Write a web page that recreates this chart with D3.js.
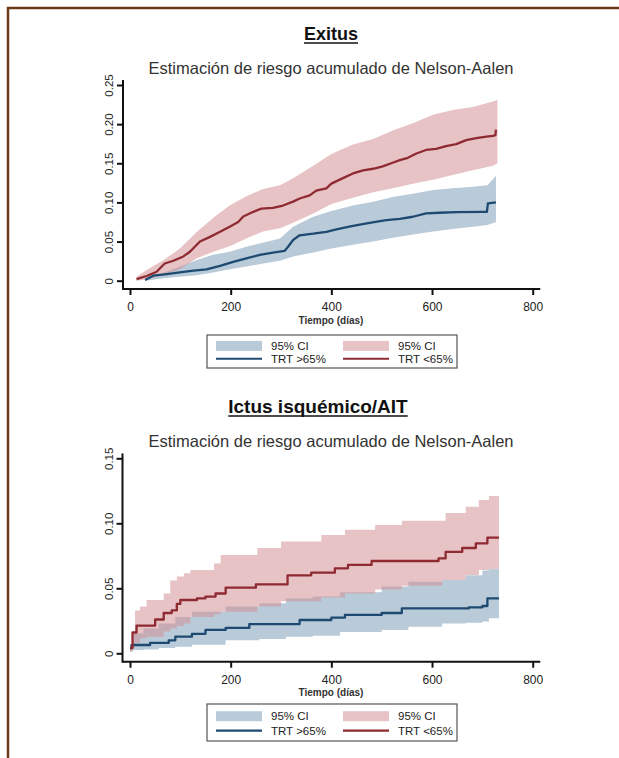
<!DOCTYPE html>
<html><head><meta charset="utf-8">
<script src="https://cdn.jsdelivr.net/npm/d3@7"></script>
<style>body{margin:0;background:#fff}svg{display:block}text{font-family:"Liberation Sans",Arial,Helvetica,sans-serif}</style>
</head><body><svg id="c" width="619" height="758"></svg>
<script>
// ---------- DATA ----------
const xTicks = [0, 200, 400, 600, 800];
const exYTicks = [0, 0.05, 0.10, 0.15, 0.20, 0.25];
const exYLabels = ["0", "0.05", "0.10", "0.15", "0.20", "0.25"];
const icYTicks = [0, 0.05, 0.10, 0.15];
const icYLabels = ["0", "0.05", "0.10", "0.15"];
const legendLabels = ["95% CI", "95% CI", "TRT >65%", "TRT <65%"];

// Exitus – TRT <65% (red)
const exRedT = [13,33,53,69,86,106,119,139,159,179,198,215,225,245,261,284,304,324,337,357,370,390,400,423,443,463,483,502,519,536,552,569,588,608,628,648,668,688,708,721,726,727];
const exRedV = [0.002,0.006,0.0115,0.022,0.0255,0.031,0.037,0.050,0.056,0.0625,0.069,0.075,0.082,0.088,0.092,0.093,0.096,0.101,0.105,0.109,0.115,0.118,0.124,0.131,0.137,0.141,0.143,0.146,0.150,0.154,0.157,0.1625,0.167,0.1685,0.172,0.1745,0.1795,0.182,0.184,0.185,0.186,0.193];
const exRedBandT = [13,33,66,99,132,165,198,231,264,298,324,364,400,443,483,522,562,602,641,681,721,730];
const exRedUp = [0.005,0.0136,0.026,0.041,0.062,0.080,0.096,0.108,0.117,0.122,0.131,0.147,0.162,0.174,0.181,0.192,0.201,0.212,0.218,0.222,0.229,0.231];
const exRedLo = [0.0,0.002,0.007,0.0145,0.0285,0.037,0.044,0.054,0.063,0.067,0.074,0.086,0.098,0.106,0.113,0.118,0.124,0.129,0.135,0.141,0.147,0.150];
// Exitus – TRT >65% (blue)
const exBlueT = [30,46,73,99,126,152,179,205,231,258,284,307,314,324,337,364,390,410,443,476,509,536,562,588,615,648,701,709,711,727];
const exBlueV = [0.001,0.0064,0.0085,0.0106,0.0128,0.0145,0.019,0.024,0.0285,0.033,0.036,0.038,0.0434,0.052,0.058,0.060,0.0625,0.0655,0.070,0.074,0.0775,0.079,0.0817,0.086,0.0868,0.0877,0.088,0.088,0.0987,0.100];
const exBlueBandT = [30,66,99,132,165,198,231,264,298,324,364,400,443,483,522,562,602,641,681,710,727];
const exBlueUp = [0.002,0.010,0.018,0.026,0.033,0.037,0.0434,0.0485,0.054,0.069,0.0817,0.089,0.096,0.101,0.107,0.111,0.116,0.118,0.120,0.122,0.134];
const exBlueLo = [0.0,0.003,0.005,0.007,0.0106,0.0145,0.018,0.022,0.0255,0.031,0.036,0.041,0.046,0.050,0.055,0.059,0.063,0.066,0.069,0.071,0.075];

// Ictus – TRT <65% (red)
const icRedT = [0,5,13,50,67,83,93,100,133,150,170,190,250,313,360,407,433,480,613,627,660,687,710,733];
const icRedV = [0.004,0.016,0.0213,0.026,0.031,0.033,0.038,0.041,0.0423,0.0436,0.046,0.0505,0.053,0.060,0.062,0.0654,0.068,0.071,0.073,0.078,0.081,0.0846,0.089,0.089];
const icRedBandT = [0,5,10,20,33,67,80,93,107,120,167,180,253,300,380,427,487,540,620,627,667,693,713,733];
const icRedUp = [0.004,0.0154,0.033,0.036,0.041,0.046,0.056,0.059,0.0615,0.064,0.069,0.0756,0.081,0.086,0.091,0.095,0.0987,0.102,0.102,0.108,0.1128,0.118,0.121,0.122];
const icRedLo = [0.001,0.004,0.008,0.0115,0.0128,0.0167,0.019,0.021,0.023,0.028,0.030,0.032,0.036,0.040,0.043,0.046,0.049,0.052,0.0564,0.0564,0.0603,0.0641,0.065,0.0662];
// Ictus – TRT >65% (blue)
const icBlueT = [0,3,40,77,90,123,150,190,237,337,400,427,500,540,673,700,710,733];
const icBlueV = [0.004,0.0064,0.008,0.010,0.0128,0.015,0.018,0.0195,0.0225,0.0256,0.0275,0.0295,0.031,0.0345,0.0354,0.0364,0.0423,0.0423];
const icBlueBandT = [0,7,27,57,90,123,190,257,310,363,417,500,553,620,667,700,713,733];
const icBlueUp = [0.004,0.0154,0.019,0.023,0.028,0.032,0.036,0.0385,0.0423,0.0436,0.047,0.0513,0.055,0.0564,0.060,0.0636,0.065,0.066];
const icBlueLo = [0.002,0.0025,0.003,0.004,0.005,0.0065,0.010,0.011,0.0128,0.0135,0.0164,0.018,0.0205,0.023,0.0235,0.0245,0.027,0.028];

// ---------- DRAW ----------
const RED = "#8f2a32", BLUE = "#1e4a72";
const BLUEBAND = "#b9cad9", PINKBAND = "rgba(212,146,150,0.55)";
const svg = d3.select("#c");
svg.append("rect").attr("width", 619).attr("height", 758).attr("fill", "#fff");
svg.append("path").attr("d", "M8,758V8H619").attr("fill", "none").attr("stroke", "#6b3b17").attr("stroke-width", 2.5);

const zip = (t, a) => t.map((d, i) => ({t: d, v: a[i]}));
const zip3 = (t, lo, hi) => t.map((d, i) => ({t: d, lo: lo[i], hi: hi[i]}));
const FONT = "Liberation Sans, Arial, sans-serif";

function panel(o) {
  const x = d3.scaleLinear().domain([0, 800]).range([130, 532.7]);
  const y = d3.scaleLinear().domain([0, o.yMax]).range([o.y0, o.yTop]);
  const g = svg.append("g");
  const curve = o.steps ? d3.curveStepAfter : d3.curveLinear;
  const area = d3.area().x(d => x(d.t)).y0(d => y(d.lo)).y1(d => y(d.hi)).curve(curve);
  const line = d3.line().x(d => x(d.t)).y(d => y(d.v)).curve(curve);

  g.append("path").datum(zip3(o.blueBandT, o.blueLo, o.blueUp)).attr("d", area).attr("fill", BLUEBAND);
  g.append("path").datum(zip3(o.redBandT, o.redLo, o.redUp)).attr("d", area).attr("fill", PINKBAND);
  g.append("path").datum(zip(o.blueT, o.blueV)).attr("d", line).attr("fill", "none").attr("stroke", BLUE).attr("stroke-width", 2.3).attr("stroke-linejoin", "round");
  g.append("path").datum(zip(o.redT, o.redV)).attr("d", line).attr("fill", "none").attr("stroke", RED).attr("stroke-width", 2.3).attr("stroke-linejoin", "round");

  // axes
  const ayTopVal = o.yMax * 1.025;
  g.append("line").attr("x1", o.axisX).attr("x2", x(815)).attr("y1", o.axisY).attr("y2", o.axisY).attr("stroke", "#111").attr("stroke-width", 2);
  g.append("line").attr("x1", o.axisX).attr("x2", o.axisX).attr("y1", o.axisY + 1).attr("y2", y(ayTopVal)).attr("stroke", "#111").attr("stroke-width", 2);

  const yAx = g.append("g").attr("transform", `translate(${o.axisX},0)`)
    .call(d3.axisLeft(y).tickValues(o.yTicks).tickFormat((d, i) => o.yLabels[i]).tickSize(6).tickSizeOuter(0));
  yAx.select(".domain").remove();
  yAx.selectAll(".tick line").attr("stroke", "#111").attr("stroke-width", 2);
  yAx.selectAll(".tick text").attr("transform", "rotate(-90)").attr("x", 0).attr("y", -10).attr("dy", 0)
    .attr("text-anchor", "middle").attr("font-size", 11.5).attr("fill", "#222").style("font-family", FONT);

  const xAx = g.append("g").attr("transform", `translate(0,${o.axisY})`)
    .call(d3.axisBottom(x).tickValues(xTicks).tickFormat(d3.format("d")).tickSize(6).tickSizeOuter(0));
  xAx.select(".domain").remove();
  xAx.selectAll(".tick line").attr("stroke", "#111").attr("stroke-width", 2);
  xAx.selectAll(".tick text").attr("y", 22).attr("dy", 0).attr("font-size", 12).attr("fill", "#222").style("font-family", FONT);

  g.append("text").attr("x", 331).attr("y", o.axisY + 34.5).attr("text-anchor", "middle")
    .attr("font-size", 10).attr("font-weight", "bold").attr("fill", "#333").text("Tiempo (días)");

  // titles
  const t = g.append("text").attr("x", o.titleX).attr("y", o.titleY).attr("text-anchor", "middle")
    .attr("font-size", o.titleSize).attr("font-weight", "bold").attr("fill", "#111").text(o.title);
  const w = t.node().getComputedTextLength();
  g.append("line").attr("x1", o.titleX - w / 2).attr("x2", o.titleX + w / 2).attr("y1", o.titleY + 3).attr("y2", o.titleY + 3)
    .attr("stroke", "#111").attr("stroke-width", 1.6);
  g.append("text").attr("x", 331).attr("y", o.subY).attr("text-anchor", "middle")
    .attr("font-size", 16.5).attr("fill", "#333").text("Estimación de riesgo acumulado de Nelson-Aalen");

  // legend
  const L = o.leg;
  const lg = g.append("g");
  lg.append("rect").attr("x", L.x).attr("y", L.y).attr("width", L.w).attr("height", L.h)
    .attr("fill", "#fff").attr("stroke", "#555").attr("stroke-width", 1.2);
  const cols = [L.x + 9, L.x + 136];
  const r1 = L.y + L.h * 0.33, r2 = L.y + L.h * 0.72;
  lg.append("rect").attr("x", cols[0]).attr("y", r1 - 5).attr("width", 46).attr("height", 10).attr("fill", BLUEBAND);
  lg.append("rect").attr("x", cols[1]).attr("y", r1 - 5).attr("width", 46).attr("height", 10).attr("fill", PINKBAND);
  lg.append("line").attr("x1", cols[0]).attr("x2", cols[0] + 46).attr("y1", r2).attr("y2", r2).attr("stroke", BLUE).attr("stroke-width", 2.2);
  lg.append("line").attr("x1", cols[1]).attr("x2", cols[1] + 46).attr("y1", r2).attr("y2", r2).attr("stroke", RED).attr("stroke-width", 2.2);
  const lt = [[cols[0] + 55, r1, 0], [cols[1] + 55, r1, 1], [cols[0] + 55, r2, 2], [cols[1] + 55, r2, 3]];
  lt.forEach(([lx, ly, i]) => lg.append("text").attr("x", lx).attr("y", ly + 4).attr("font-size", 11.5).attr("fill", "#222").text(legendLabels[i]));
}

panel({
  yMax: 0.25, y0: 280.7, yTop: 85, axisX: 123, axisY: 289, steps: false,
  yTicks: exYTicks, yLabels: exYLabels,
  redT: exRedT, redV: exRedV, redBandT: exRedBandT, redUp: exRedUp, redLo: exRedLo,
  blueT: exBlueT, blueV: exBlueV, blueBandT: exBlueBandT, blueUp: exBlueUp, blueLo: exBlueLo,
  title: "Exitus", titleX: 331, titleY: 40, titleSize: 18, subY: 74,
  leg: {x: 207, y: 335, w: 250, h: 33}
});
panel({
  yMax: 0.15, y0: 653.3, yTop: 458.3, axisX: 122.5, axisY: 661.7, steps: true,
  yTicks: icYTicks, yLabels: icYLabels,
  redT: icRedT, redV: icRedV, redBandT: icRedBandT, redUp: icRedUp, redLo: icRedLo,
  blueT: icBlueT, blueV: icBlueV, blueBandT: icBlueBandT, blueUp: icBlueUp, blueLo: icBlueLo,
  title: "Ictus isquémico/AIT", titleX: 318, titleY: 413, titleSize: 19, subY: 447,
  leg: {x: 207, y: 704, w: 250, h: 37}
});
</script></body></html>
